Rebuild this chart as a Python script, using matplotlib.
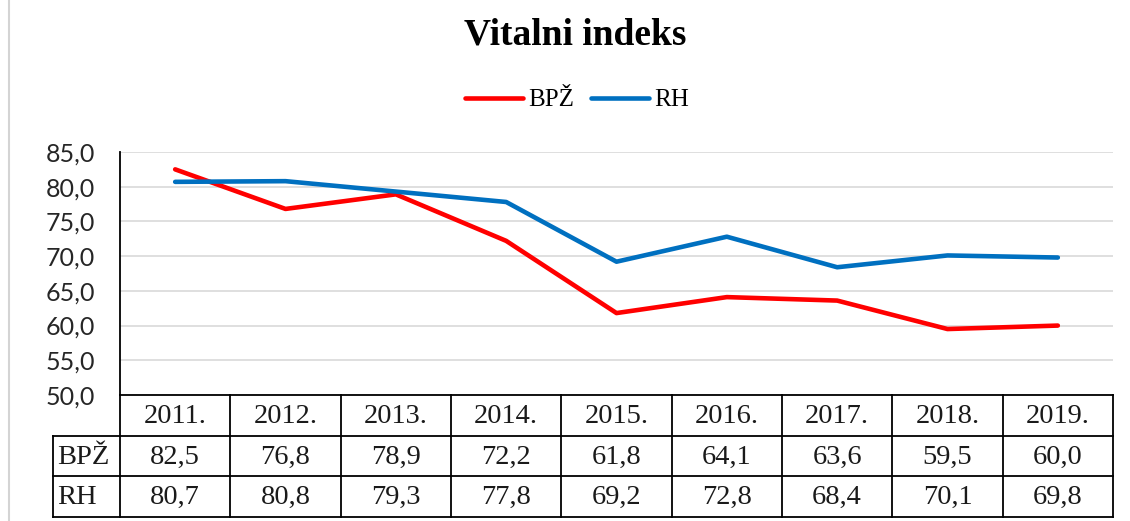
import matplotlib
matplotlib.use('Agg')
from matplotlib import pyplot as plt
from matplotlib.lines import Line2D
from matplotlib.ticker import FuncFormatter, MultipleLocator

# data
years = ['2011.', '2012.', '2013.', '2014.', '2015.', '2016.', '2017.', '2018.', '2019.']
bpz = [82.5, 76.8, 78.9, 72.2, 61.8, 64.1, 63.6, 59.5, 60.0]
rh = [80.7, 80.8, 79.3, 77.8, 69.2, 72.8, 68.4, 70.1, 69.8]
series_names = ['BPŽ', 'RH']
series_colors = ['#FF0000', '#0070C0']

W, H = 1130, 521
serif = 'Liberation Serif'
sans = 'Lato'


def comma(v, pos):
    return ('%.1f' % v).replace('.', ',')


fig = plt.figure(figsize=(W / 100, H / 100), dpi=100)
fig.patch.set_facecolor('white')

# page edge on the left
fig.add_artist(Line2D([9 / W, 9 / W], [0, 1], color='#D4D4D4', lw=1.5))

# plot area
ax = fig.add_axes([120 / W, (H - 395) / H, (1113 - 120) / W, (395 - 152) / H])
x = list(range(len(years)))
for vals, name, col in zip([bpz, rh], series_names, series_colors):
    ax.plot(x, vals, color=col, lw=3.3, label=name,
            solid_capstyle='round', solid_joinstyle='round', zorder=3)

ax.set_xlim(-0.5, len(years) - 0.5)
ax.set_ylim(50, 85)
ax.yaxis.set_major_locator(MultipleLocator(5))
ax.yaxis.set_major_formatter(FuncFormatter(comma))
ax.set_xticks([])
ax.tick_params(axis='y', length=0, pad=18, labelsize=18, labelcolor='#262626')
for lab in ax.get_yticklabels():
    lab.set_fontfamily(sans)
ax.grid(axis='y', color='#D9D9D9', lw=1.2, zorder=0)
for s in ['top', 'right', 'bottom']:
    ax.spines[s].set_visible(False)
ax.spines['left'].set_color('black')
ax.spines['left'].set_linewidth(1.3)

# data table under the plot
tab = fig.add_axes([120 / W, (H - 517) / H, (1113 - 120) / W, (517 - 395) / H])
tab.set_xlim(-0.5, len(years) - 0.5)
tab.set_ylim(3, 0)
tab.axis('off')
left = -0.5 - (120 - 53) / ((1113 - 120) / len(years))
lk = dict(color='black', lw=1.3, clip_on=False, solid_capstyle='projecting')
tab.plot([-0.5, len(years) - 0.5], [0, 0], **lk)
for r in [1, 2, 3]:
    tab.plot([left, len(years) - 0.5], [r, r], **lk)
for i in range(len(years) + 1):
    tab.plot([i - 0.5, i - 0.5], [0, 3], **lk)
tab.plot([left, left], [1, 3], **lk)

for i, y in enumerate(years):
    tab.text(i, 0.53, y, ha='center', va='center', fontsize=20.5, family=serif, color='#1a1a1a')
for r, (name, vals) in enumerate(zip(series_names, [bpz, rh]), start=1):
    tab.text(left + 0.04, r + 0.53, name, ha='left', va='center', fontsize=20.5,
             family=serif, color='#1a1a1a', clip_on=False)
    for i, v in enumerate(vals):
        tab.text(i, r + 0.53, comma(v, None), ha='center', va='center', fontsize=20.5,
                 family=serif, color='#1a1a1a')

fig.text(575 / W, 1 - 35 / H, 'Vitalni indeks', ha='center', va='center',
         fontsize=27, fontweight='bold', family=serif)

fig.legend(loc='center', bbox_to_anchor=(577 / W, 1 - 100 / H), ncol=2, frameon=False,
           prop={'family': serif, 'size': 18}, handlelength=2.3, handletextpad=0.2,
           columnspacing=0.7)

fig.savefig('out.png', dpi=100)
